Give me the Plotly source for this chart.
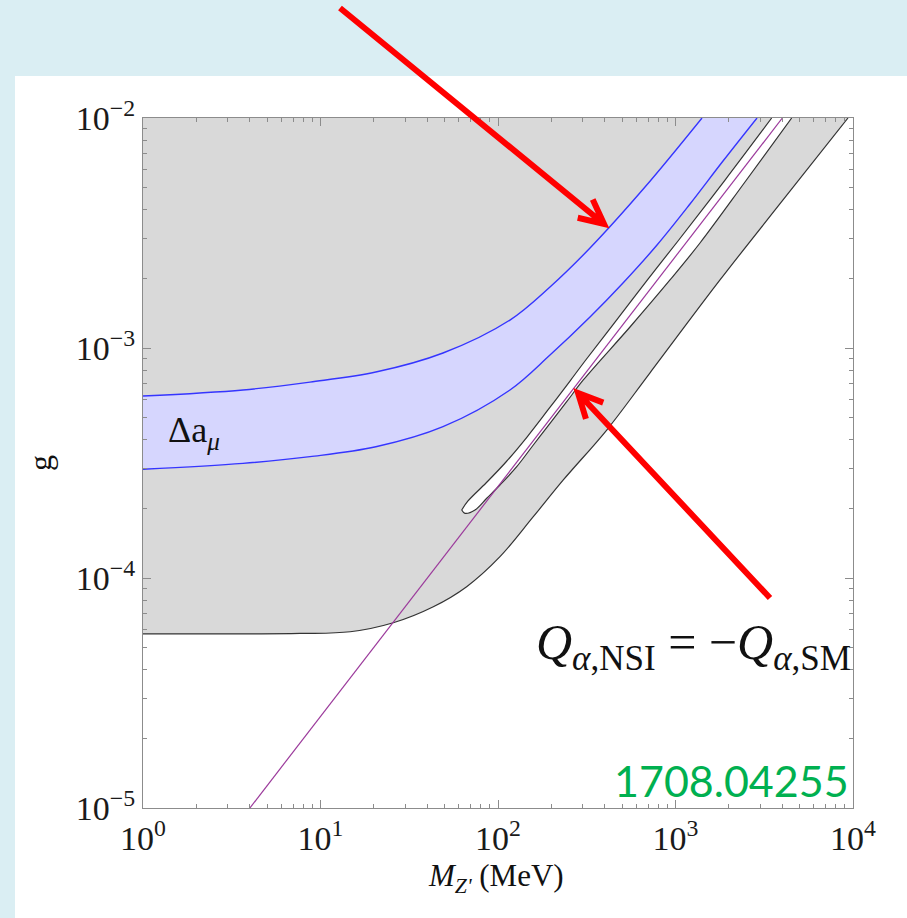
import numpy as np
import plotly.graph_objects as go

# ---------------- data: Z' mass M (MeV) and coupling g ----------------
# lower edge of the excluded (grey) region
excl_M = [1, 3.17, 7.66, 14.7, 25.7, 43.2, 66.6, 102.6, 158.1, 233.3, 409.8, 718.4, 1781, 4087, 9372]
excl_g = [5.71e-5, 5.71e-5, 5.74e-5, 5.84e-5, 6.39e-5, 7.50e-5, 9.17e-5, 1.238e-4, 1.847e-4,
          2.668e-4, 4.40e-4, 7.80e-4, 1.976e-3, 4.457e-3, 1.0e-2]

# muon g-2 band (upper and lower edges)
band_M_hi = [1, 3.66, 8.73, 20.5, 49.0, 116.8, 196.3, 329.9, 673.2, 1410]
band_g_hi = [6.18e-4, 6.57e-4, 7.11e-4, 7.86e-4, 9.51e-4, 1.323e-3, 1.842e-3, 2.721e-3, 5.01e-3, 1.0e-2]
band_M_lo = [1, 3.66, 8.73, 20.5, 49.0, 116.8, 196.3, 329.9, 506.0, 786.8, 1207, 1852, 2879]
band_g_lo = [2.97e-4, 3.15e-4, 3.37e-4, 3.72e-4, 4.55e-4, 6.57e-4, 9.32e-4, 1.364e-3, 1.917e-3,
             2.804e-3, 4.227e-3, 6.50e-3, 1.0e-2]

# allowed sliver inside the excluded region (upper-left and lower-right edges, from the tip upward)
sliver_M_up = [62.45, 67.76, 85.59, 110.9, 145.7, 191.2, 254.4, 309.1, 456.2, 700.1, 1033, 1901, 3483]
sliver_g_up = [1.976e-4, 2.162e-4, 2.588e-4, 3.194e-4, 4.102e-4, 5.376e-4, 7.185e-4, 8.78e-4,
               1.297e-3, 1.995e-3, 2.919e-3, 5.374e-3, 1.0e-2]
sliver_M_lo = [62.45, 65.18, 74.22, 86.70, 102.6, 127.5, 158.1, 196.3, 243.8, 302.4, 554.2, 931.1,
               1374, 2463, 4515]
sliver_g_lo = [1.976e-4, 1.911e-4, 1.976e-4, 2.227e-4, 2.537e-4, 3.048e-4, 3.787e-4, 4.706e-4,
               5.84e-4, 7.26e-4, 1.234e-3, 1.976e-3, 2.861e-3, 5.268e-3, 1.0e-2]

# Q_NSI = -Q_SM line
nsi_M = [4.0, 4000]
nsi_g = [1e-5, 1e-2]

# axes
M_RANGE = (1, 1e4)
G_RANGE = (1e-5, 1e-2)
x_ticks = [1, 10, 100, 1000, 10000]
x_ticktext = ["10<sup>0</sup>", "10<sup>1</sup>", "10<sup>2</sup>", "10<sup>3</sup>", "10<sup>4</sup>"]
y_ticks = [1e-5, 1e-4, 1e-3, 1e-2]
y_ticktext = ["10<sup>\u22125</sup>", "10<sup>\u22124</sup>", "10<sup>\u22123</sup>", "10<sup>\u22122</sup>"]

# ---------------- page geometry ----------------
W, H = 907, 918
L, R, T, B = 143, 54, 118, 110
PW, PH = W - L - R, H - T - B


def to_paper(px, py):
    return (px - L) / PW, (H - B - py) / PH


GREY = "#D9D9D9"
BAND = "#D6D6FE"
BLUE = "#3535FF"
PURPLE = "#9B3A9B"
EDGE = "#333333"
FRAME = "#8C8C8C"
SERIF = "Liberation Serif"
SMOOTH = dict(shape="spline", smoothing=1.0)

fig = go.Figure()

# excluded region: filled from its lower edge up to the top of the frame
fig.add_trace(go.Scatter(
    x=[M_RANGE[0], excl_M[-1]], y=[G_RANGE[1], G_RANGE[1]],
    mode="lines", line=dict(width=0), hoverinfo="skip"))
fig.add_trace(go.Scatter(
    x=excl_M, y=excl_g, mode="lines", fill="tonexty", fillcolor=GREY,
    line=dict(color=EDGE, width=1.2, **SMOOTH), hoverinfo="skip"))

# g-2 band
fig.add_trace(go.Scatter(
    x=band_M_hi, y=band_g_hi, mode="lines",
    line=dict(color=BLUE, width=1.4, **SMOOTH), hoverinfo="skip"))
fig.add_trace(go.Scatter(
    x=band_M_lo, y=band_g_lo, mode="lines", fill="tonexty", fillcolor=BAND,
    line=dict(color=BLUE, width=1.4, **SMOOTH), hoverinfo="skip"))

# allowed sliver
fig.add_trace(go.Scatter(
    x=sliver_M_up, y=sliver_g_up, mode="lines",
    line=dict(color=EDGE, width=1.2, **SMOOTH), hoverinfo="skip"))
fig.add_trace(go.Scatter(
    x=sliver_M_lo, y=sliver_g_lo, mode="lines", fill="tonexty", fillcolor="white",
    line=dict(color=EDGE, width=1.2, **SMOOTH), hoverinfo="skip"))

# Q_NSI = -Q_SM
fig.add_trace(go.Scatter(
    x=nsi_M, y=nsi_g, mode="lines", line=dict(color=PURPLE, width=1.2), hoverinfo="skip"))


def minor_vals(lo_exp, hi_exp):
    return [m * 10.0 ** e for e in range(lo_exp, hi_exp) for m in range(2, 10)]


axis_common = dict(
    type="log", showgrid=False, zeroline=False,
    showline=True, linecolor=FRAME, linewidth=1, mirror="allticks",
    ticks="inside", ticklen=8, tickwidth=1, tickcolor=FRAME,
    tickfont=dict(family=SERIF, size=34, color="#1a1a1a"),
)
fig.update_xaxes(
    range=[np.log10(M_RANGE[0]), np.log10(M_RANGE[1])],
    tickvals=x_ticks, ticktext=x_ticktext,
    minor=dict(tickvals=minor_vals(0, 4), ticks="inside", ticklen=4, tickcolor=FRAME, showgrid=False),
    **axis_common)
fig.update_yaxes(
    range=[np.log10(G_RANGE[0]), np.log10(G_RANGE[1])],
    tickvals=y_ticks, ticktext=y_ticktext,
    minor=dict(tickvals=minor_vals(-5, -2), ticks="inside", ticklen=4, tickcolor=FRAME, showgrid=False),
    **axis_common)

# ---------------- red arrows ----------------
def arrow_path(tail, tip, arm=27, half_angle=26):
    tx, ty = tail
    hx, hy = tip
    d = np.array([hx - tx, hy - ty], dtype=float)
    d /= np.hypot(*d)
    pts = []
    for s in (1, -1):
        a = np.radians(s * half_angle)
        rot = np.array([[np.cos(a), -np.sin(a)], [np.sin(a), np.cos(a)]])
        v = rot @ (-d)
        pts.append((hx + arm * v[0], hy + arm * v[1]))
    P = lambda p: "%.5f,%.5f" % to_paper(*p)
    return "M %s L %s M %s L %s L %s" % (P(tail), P(tip), P(pts[0]), P(tip), P(pts[1]))


shapes = [
    # white panel on the light-blue page
    dict(type="rect", xref="paper", yref="paper",
         x0=to_paper(15, 0)[0], x1=1.2, y0=-0.3, y1=to_paper(0, 76)[1],
         fillcolor="white", line=dict(width=0), layer="below"),
]
for tail, tip in (((340, 8), (604, 224)), ((770, 598), (578, 393))):
    shapes.append(dict(type="path", xref="paper", yref="paper", path=arrow_path(tail, tip),
                       line=dict(color="#FF0000", width=6), layer="above"))

annotations = [
    dict(text="\u0394a<sub><i>\u03bc</i></sub>", xref="paper", yref="paper",
         x=to_paper(166, 0)[0], y=to_paper(0, 432)[1], xanchor="left", yanchor="middle",
         showarrow=False, font=dict(family=SERIF, size=36, color="#111")),
    dict(text="<i>Q</i><sub><i>\u03b1</i>,NSI</sub> = \u2212<i>Q</i><sub><i>\u03b1</i>,SM</sub>",
         xref="paper", yref="paper",
         x=to_paper(853, 0)[0], y=to_paper(0, 646)[1], xanchor="right", yanchor="middle",
         showarrow=False, font=dict(family=SERIF, size=50, color="#111")),
    dict(text="1708.04255", xref="paper", yref="paper",
         x=to_paper(851, 0)[0], y=to_paper(0, 780)[1], xanchor="right", yanchor="middle",
         showarrow=False, font=dict(family="Lato", size=43, color="#00B050")),
    dict(text="g", xref="paper", yref="paper", textangle=-90,
         x=to_paper(40, 0)[0], y=to_paper(0, 463)[1], xanchor="center", yanchor="middle",
         showarrow=False, font=dict(family=SERIF, size=32, color="#111")),
    dict(text="<i>M</i><sub><i>Z'</i></sub> (MeV)", xref="paper", yref="paper",
         x=to_paper(496, 0)[0], y=to_paper(0, 878)[1], xanchor="center", yanchor="middle",
         showarrow=False, font=dict(family=SERIF, size=31, color="#111")),
]

fig.update_layout(
    width=W, height=H, margin=dict(l=L, r=R, t=T, b=B),
    paper_bgcolor="#DAEEF3", plot_bgcolor="white",
    showlegend=False, shapes=shapes, annotations=annotations,
)

fig.write_html("out.html")
